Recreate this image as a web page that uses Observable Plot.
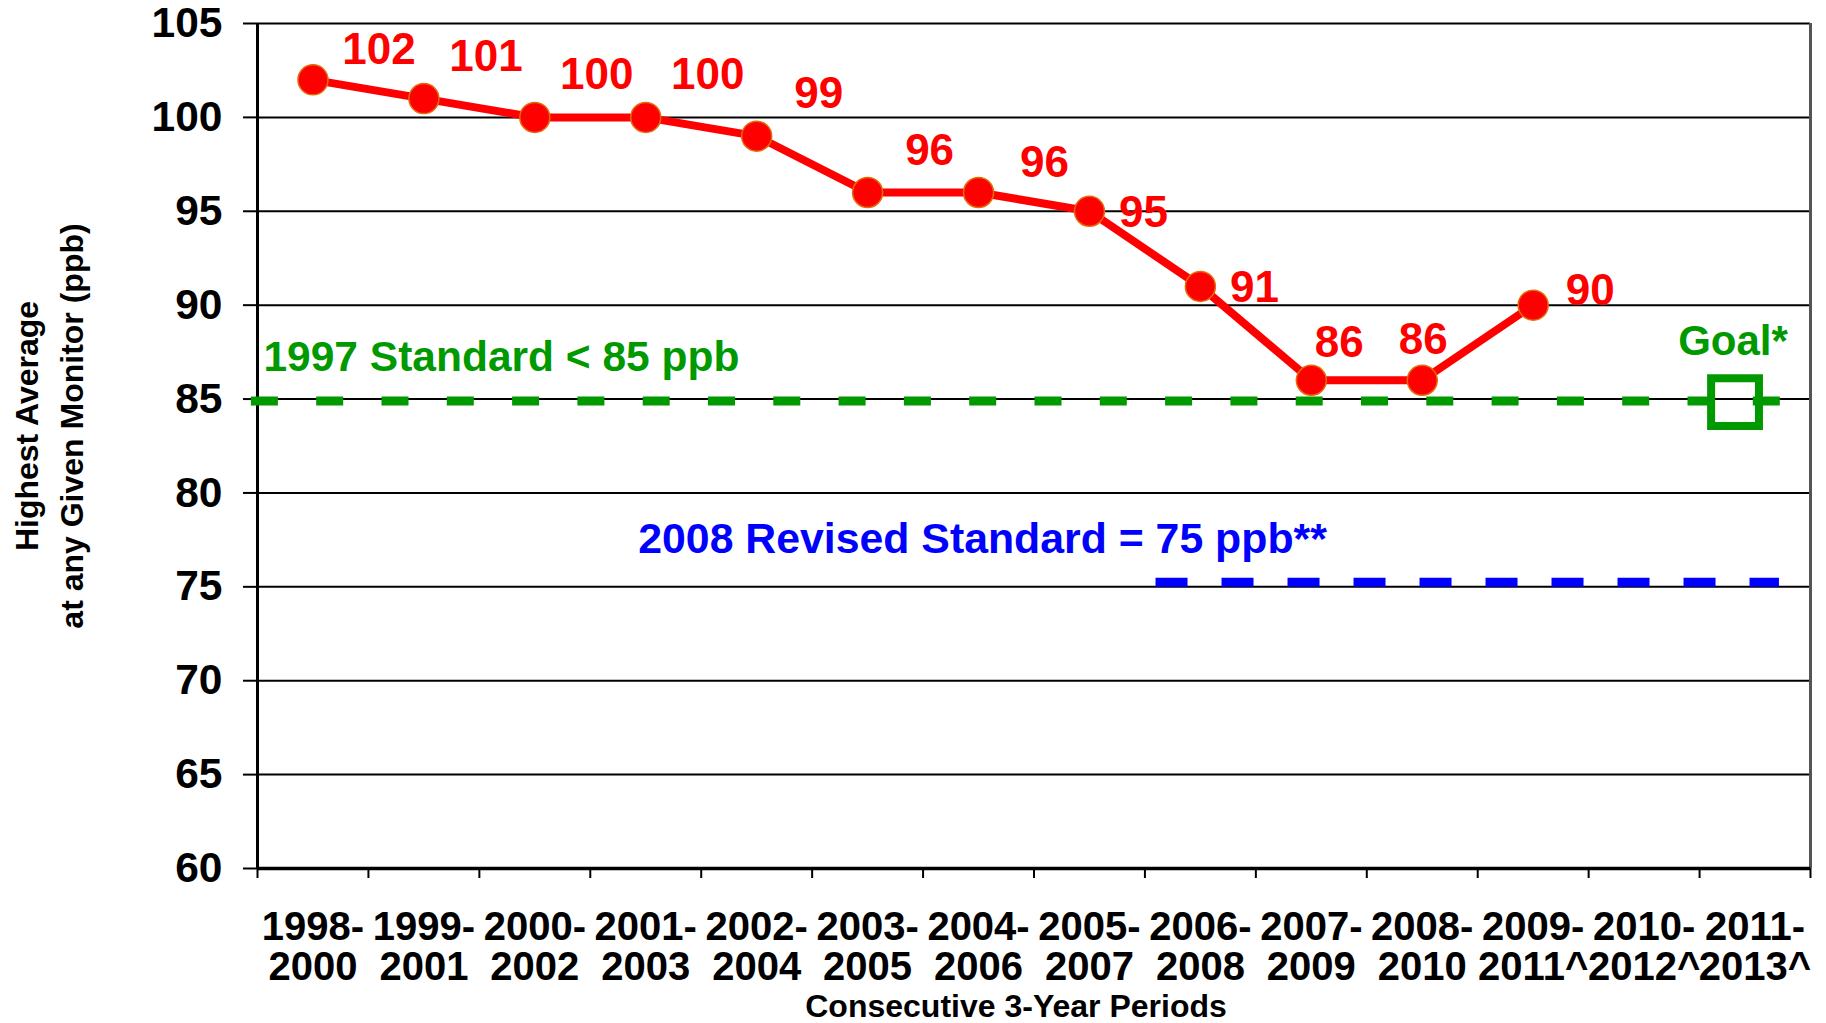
<!DOCTYPE html>
<html>
<head>
<meta charset="utf-8">
<script src="https://cdn.jsdelivr.net/npm/d3@7"></script>
<script src="https://cdn.jsdelivr.net/npm/@observablehq/plot@0.6"></script>
<style>
  html, body { margin: 0; padding: 0; background: #ffffff; }
  #chart { width: 1826px; height: 1023px; overflow: hidden; }
</style>
</head>
<body>
<div id="chart"></div>
<script>
// ---- Data ----
const periods = ["1998-2000", "1999-2001", "2000-2002", "2001-2003", "2002-2004", "2003-2005", "2004-2006",
                 "2005-2007", "2006-2008", "2007-2009", "2008-2010", "2009-2011^", "2010-2012^", "2011-2013^"];
const highestAverage = [102, 101, 100, 100, 99, 96, 96, 95, 91, 86, 86, 90];
const labelPlacement = ["upper-right-near", "upper-right", "upper-right", "upper-right", "upper-right", "upper-right",
                        "upper-right-near", "right", "right", "above-right", "above", "right-up"];
const yTicks = [60, 65, 70, 75, 80, 85, 90, 95, 100, 105];
const standardValues = [85, 75];
const standardLabels = ["1997 Standard < 85 ppb", "2008 Revised Standard = 75 ppb**"];
const standardSpans = [[-0.555, 13.24], [7.6, 13.22]]; // in period-index units
const goalValue = 85;
const goalLabel = "Goal*";
const yTitle = "Highest Average\nat any Given Monitor (ppb)";
const xTitle = "Consecutive 3-Year Periods";

// ---- Build tables ----
const points = highestAverage.map((v, i) => ({i, period: periods[i], value: v, place: labelPlacement[i]}));
const periodIdx = periods.map((_, i) => i);
const boundaries = d3.range(periods.length + 1).map(i => i - 0.5);

const RED = "#ff0000", GREEN = "#009900", BLUE = "#0000ff";
const FONT = "Arial, 'Liberation Sans', Helvetica, sans-serif";

const offsets = {
  "upper-right": [62, -42],
  "upper-right-near": [66, -30],
  "right": [54, 2],
  "above-right": [28, -37],
  "above": [1, -40],
  "right-up": [57, -14]
};

const labelMarks = Object.entries(offsets).map(([key, [dx, dy]]) =>
  Plot.text(points.filter(d => d.place === key), {
    x: "i", y: "value", text: d => String(d.value),
    dx, dy, fill: RED, fontSize: 44, fontWeight: "bold", textAnchor: "middle", lineAnchor: "middle"
  })
);

const chart = Plot.plot({
  width: 1826,
  height: 1023,
  marginLeft: 257,
  marginRight: 16,
  marginTop: 23,
  marginBottom: 155,
  x: {domain: [-0.5, periods.length - 0.5], axis: null},
  y: {domain: [60, 105], axis: null},
  style: {fontFamily: FONT, fontWeight: "bold", background: "#ffffff", color: "#000"},
  marks: [
    // gridlines
    Plot.ruleY(yTicks, {stroke: "#000", strokeWidth: 2}),
    // y axis ticks + labels
    Plot.axisY(yTicks, {tickSize: 14, tickPadding: 21, fontSize: 42.5, fontWeight: "bold",
      strokeWidth: 2, tickFormat: d => String(d), label: null}),
    // x boundary ticks
    Plot.axisX(boundaries, {tickSize: 10, strokeWidth: 2, tickFormat: () => "", label: null}),
    // x category labels
    Plot.axisX(periodIdx, {tickSize: 0, tickPadding: 43.5, fontSize: 40, fontWeight: "bold", lineHeight: 1.0,
      tickFormat: i => periods[i].replace("-", "-\n"), label: null}),
    // frame lines
    Plot.ruleX([-0.5], {y1: 60, y2: 105, stroke: "#000", strokeWidth: 3}),
    Plot.ruleX([periods.length - 0.5], {y1: 60, y2: 105, stroke: "#555", strokeWidth: 3}),
    Plot.ruleY([60], {stroke: "#000", strokeWidth: 3.5}),
    // standards
    Plot.ruleY([standardValues[0]], {x1: standardSpans[0][0], x2: standardSpans[0][1], dy: 2,
      stroke: GREEN, strokeWidth: 9, strokeDasharray: "27 38.3"}),
    Plot.ruleY([standardValues[1]], {x1: standardSpans[1][0], x2: standardSpans[1][1], dy: -4.5,
      stroke: BLUE, strokeWidth: 9, strokeDasharray: "32 34"}),
    Plot.text([standardLabels[0]], {x: 0, y: standardValues[0], text: d => d, dx: -49.5, dy: -42,
      textAnchor: "start", lineAnchor: "middle", fill: GREEN, fontSize: 42.5, fontWeight: "bold"}),
    Plot.text([standardLabels[1]], {x: 6, y: standardValues[1], text: d => d, dx: 4, dy: -48,
      textAnchor: "middle", lineAnchor: "middle", fill: BLUE, fontSize: 42.8, fontWeight: "bold"}),
    // goal
    Plot.dot([goalValue], {x: periods.length - 1, y: d => d, dx: -20, dy: 3, symbol: "square", r: 27,
      fill: "none", stroke: GREEN, strokeWidth: 8}),
    Plot.text([goalLabel], {x: periods.length - 1, y: goalValue, text: d => d, dx: -22, dy: -58,
      lineAnchor: "middle", fill: GREEN, fontSize: 42, fontWeight: "bold"}),
    // series
    Plot.line(points, {x: "i", y: "value", stroke: RED, strokeWidth: 8, strokeLinejoin: "round"}),
    Plot.dot(points, {x: "i", y: "value", r: 15, fill: RED, stroke: "#e46c0a", strokeWidth: 1.5}),
    ...labelMarks,
    // axis titles
    Plot.text([yTitle], {frameAnchor: "left", text: d => d, rotate: -90, dx: -211, dy: -20,
      fontSize: 32, fontWeight: "bold", lineHeight: 1.4, textAnchor: "middle", lineAnchor: "middle", fill: "#000"}),
    Plot.text([xTitle], {frameAnchor: "bottom", text: d => d, dx: -18, dy: 138,
      fontSize: 32, fontWeight: "bold", textAnchor: "middle", lineAnchor: "middle", fill: "#000"})
  ]
});

document.getElementById("chart").appendChild(chart);
</script>
</body>
</html>
